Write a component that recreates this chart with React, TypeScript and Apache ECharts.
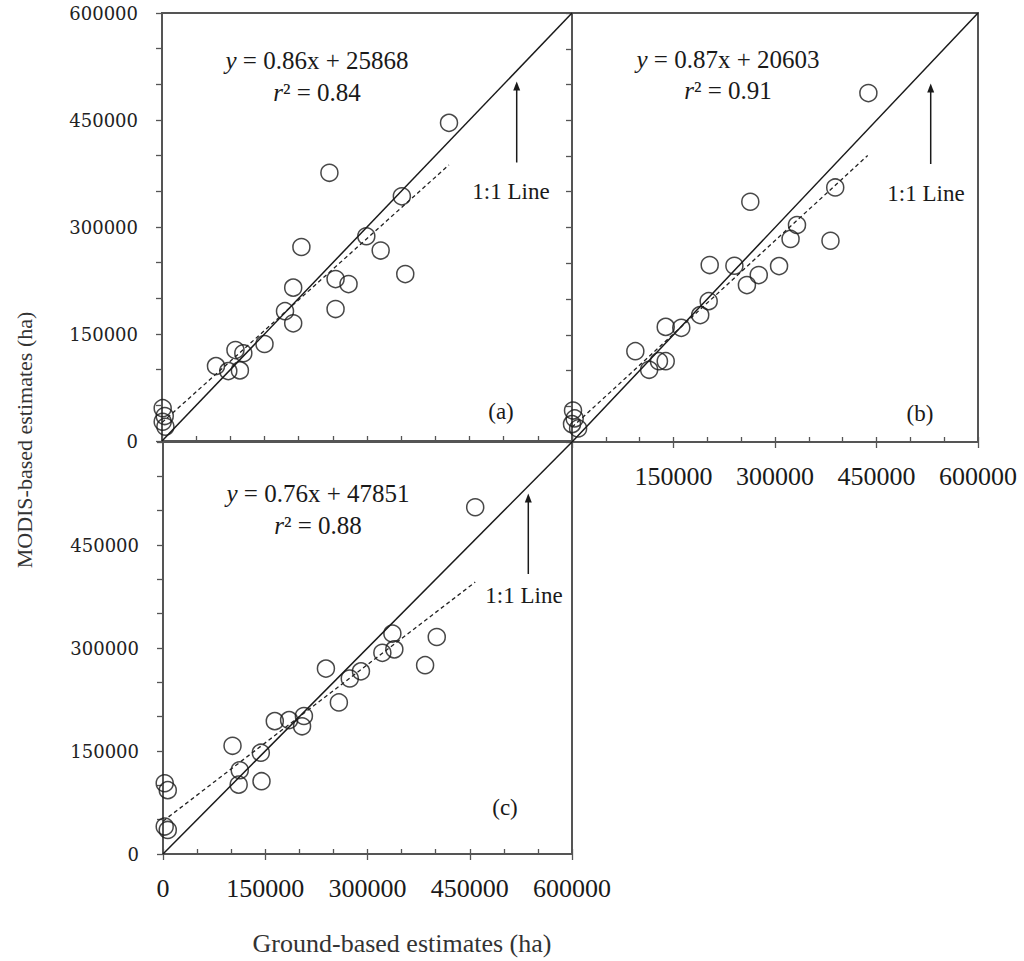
import React, { useEffect, useRef } from 'react';
import * as echarts from 'echarts';

// ---------------- DATA ----------------
const AXIS_MIN = 0;
const AXIS_MAX = 600000;
const MINOR_STEP = 50000;
const MAJOR_STEP = 150000;

// [ground-based, MODIS-based] pairs (ha)
const pointsA: number[][] = [
  [420000, 446000], [245000, 376000], [351000, 343000], [204000, 272000],
  [299000, 287000], [320000, 267000], [356000, 234000], [254000, 227000],
  [273000, 220000], [192000, 215000], [180000, 182000], [192000, 165000],
  [254000, 185000], [150000, 136000], [107500, 127500], [119000, 123000],
  [79000, 105000], [97000, 98000], [114000, 99000], [1000, 46000],
  [4000, 35000], [1000, 27000], [5000, 20000],
];

const pointsB: number[][] = [
  [438000, 488000], [263500, 336000], [389000, 356000], [332500, 303500],
  [323000, 284000], [382000, 281500], [203500, 247500], [240000, 246500],
  [306000, 246000], [276000, 233500], [258500, 219500], [202000, 197000],
  [189500, 177500], [138500, 161000], [161500, 159700], [93600, 127000],
  [114000, 101000], [128500, 113000], [138500, 113000], [1500, 44000],
  [4000, 33000], [0, 25000], [9000, 19000],
];

const pointsC: number[][] = [
  [458000, 505000], [336500, 321000], [401600, 316000], [339400, 298000],
  [321800, 293000], [384500, 275000], [239000, 270000], [290400, 266000],
  [274000, 255600], [258000, 220700], [164000, 193500], [185000, 195000],
  [206700, 201000], [204000, 186000], [102000, 157600], [143500, 147500],
  [112600, 122000], [111000, 101000], [144500, 106000], [2500, 103000],
  [7000, 93000], [2500, 40000], [7000, 35000],
];

const slopes = [0.86, 0.87, 0.76];
const intercepts = [25868, 20603, 47851];
const rSquared = ['0.84', '0.91', '0.88'];
const fitStartX = [0, 0, 0];
const fitEndX = [420000, 437000, 458000];
const panelTags = ['(a)', '(b)', '(c)'];
const oneToOneLabel = '1:1 Line';
const yTitle = 'MODIS-based estimates (ha)';
const xTitle = 'Ground-based estimates (ha)';

// ---------------- LAYOUT / STYLE ----------------
const SERIF = 'Liberation Serif';
const YFONT = 'DejaVu Serif';
const FRAME = '#555';
const INK = '#1a1a1a';

const grids = [
  { left: 162, top: 13, width: 410, height: 428 },
  { left: 572, top: 13, width: 406, height: 429 },
  { left: 163, top: 442, width: 409, height: 412 },
];

// annotation placements (pixels)
const eqPos = [
  { x: 317, y1: 60, y2: 92 },
  { x: 728, y1: 59, y2: 90 },
  { x: 318, y1: 493, y2: 525 },
];
const arrowPos = [
  { x: 516.7, tip: 81.5, tail: 162.5, lx: 511, ly: 191 },
  { x: 930.7, tip: 83.5, tail: 164, lx: 926, ly: 193 },
  { x: 528.3, tip: 493.5, tail: 574, lx: 524, ly: 595 },
];
const tagPos = [
  { x: 501, y: 411 },
  { x: 920, y: 413 },
  { x: 505, y: 807 },
];

const panels = [pointsA, pointsB, pointsC];

function minorXAxis(gridIndex: number) {
  return {
    type: 'value', gridIndex, min: AXIS_MIN, max: AXIS_MAX, interval: MINOR_STEP,
    position: 'bottom',
    axisLine: { show: true, onZero: false, lineStyle: { color: FRAME, width: 2 } },
    axisTick: { show: true, inside: true, length: 5, lineStyle: { color: FRAME, width: 1.3 } },
    axisLabel: { show: false },
    splitLine: { show: false },
  };
}

function majorXAxis(gridIndex: number, skipZero: boolean) {
  return {
    type: 'value', gridIndex, min: AXIS_MIN, max: AXIS_MAX, interval: MAJOR_STEP,
    position: 'bottom',
    axisLine: { show: false, onZero: false },
    axisTick: { show: true, inside: false, length: 6, lineStyle: { color: FRAME, width: 1.3 } },
    axisLabel: {
      show: true, margin: 21, color: INK, fontFamily: SERIF, fontSize: 26,
      formatter: (v: number) => (skipZero && v === 0 ? '' : String(v)),
    },
    splitLine: { show: false },
  };
}

function yAxisFor(gridIndex: number, labelFn: ((v: number) => string) | null) {
  return {
    type: 'value', gridIndex, min: AXIS_MIN, max: AXIS_MAX, interval: MINOR_STEP,
    position: 'left',
    axisLine: { show: true, onZero: false, lineStyle: { color: FRAME, width: 2 } },
    axisTick: { show: true, inside: false, length: 6, lineStyle: { color: FRAME, width: 1.3 } },
    axisLabel: labelFn
      ? { show: true, margin: 24, color: '#222', fontFamily: YFONT, fontSize: 18, formatter: labelFn }
      : { show: false },
    splitLine: { show: false },
  };
}

function textStyle(text: string, size: number, extra: any = {}) {
  return {
    text,
    fontFamily: SERIF,
    fontSize: size,
    fill: INK,
    align: 'center',
    verticalAlign: 'middle',
    textAlign: 'center',
    textVerticalAlign: 'middle',
    ...extra,
  };
}

export default function App() {
  const ref = useRef<HTMLDivElement>(null);

  useEffect(() => {
    if (!ref.current) return;
    const chart = echarts.init(ref.current, null, { renderer: 'svg' });

    const xAxisIndexOf = [0, 1, 3];
    const series: any[] = [];
    panels.forEach((pts, i) => {
      const xi = xAxisIndexOf[i];
      series.push({
        type: 'line', xAxisIndex: xi, yAxisIndex: i, silent: true,
        data: [[AXIS_MIN, AXIS_MIN], [AXIS_MAX, AXIS_MAX]],
        symbol: 'none', lineStyle: { color: INK, width: 1.5 },
      });
      series.push({
        type: 'line', xAxisIndex: xi, yAxisIndex: i, silent: true,
        data: [fitStartX[i], fitEndX[i]].map((x) => [x, slopes[i] * x + intercepts[i]]),
        symbol: 'none', lineStyle: { color: '#222', width: 1.3, type: [4, 3] },
      });
      series.push({
        type: 'scatter', xAxisIndex: xi, yAxisIndex: i, silent: true,
        data: pts, symbol: 'circle', symbolSize: 17,
        itemStyle: { color: 'rgba(0,0,0,0)', borderColor: INK, borderWidth: 1.5 },
      });
    });

    const rich = {
      i: { fontStyle: 'italic', fontFamily: SERIF, fontSize: 25, fill: INK, color: INK },
      n: { fontStyle: 'normal', fontFamily: SERIF, fontSize: 25, fill: INK, color: INK },
    };
    const graphic: any[] = [];
    panels.forEach((_, i) => {
      const e = eqPos[i];
      graphic.push({
        type: 'text', x: e.x, y: e.y1,
        style: textStyle(`{i|y}{n| = ${slopes[i]}x + ${intercepts[i]}}`, 25, { rich }),
      });
      graphic.push({
        type: 'text', x: e.x, y: e.y2,
        style: textStyle(`{i|r}{n|² = ${rSquared[i]}}`, 25, { rich }),
      });
      const a = arrowPos[i];
      graphic.push({
        type: 'line',
        shape: { x1: a.x, y1: a.tail, x2: a.x, y2: a.tip + 6 },
        style: { stroke: INK, lineWidth: 1.5 },
      });
      graphic.push({
        type: 'polygon',
        shape: { points: [[a.x, a.tip], [a.x - 3.5, a.tip + 9], [a.x + 3.5, a.tip + 9]] },
        style: { fill: INK },
      });
      graphic.push({
        type: 'text', x: a.lx, y: a.ly,
        style: textStyle(oneToOneLabel, 23),
      });
      const t = tagPos[i];
      graphic.push({
        type: 'text', x: t.x, y: t.y,
        style: textStyle(panelTags[i], 23),
      });
    });
    graphic.push({
      type: 'text', x: 24, y: 440, rotation: Math.PI / 2,
      style: textStyle(yTitle, 22, { fill: '#333' }),
    });
    graphic.push({
      type: 'text', x: 402, y: 943,
      style: textStyle(xTitle, 26, { fill: '#333' }),
    });

    chart.setOption({
      animation: false,
      backgroundColor: '#ffffff',
      grid: grids.map((g) => ({ ...g, show: true, borderColor: FRAME, borderWidth: 2, backgroundColor: 'transparent', containLabel: false })),
      xAxis: [
        minorXAxis(0),
        minorXAxis(1),
        majorXAxis(1, true),
        minorXAxis(2),
        majorXAxis(2, false),
      ],
      yAxis: [
        yAxisFor(0, (v: number) => (v % MAJOR_STEP === 0 ? String(v) : '')),
        yAxisFor(1, null),
        yAxisFor(2, (v: number) => (v % MAJOR_STEP === 0 && v < AXIS_MAX ? String(v) : '')),
      ],
      series,
      graphic,
    });

    return () => chart.dispose();
  }, []);

  return (
    <div
      ref={ref}
      style={{ position: 'absolute', left: 0, top: 0, width: 1024, height: 961, background: '#fff' }}
    />
  );
}
